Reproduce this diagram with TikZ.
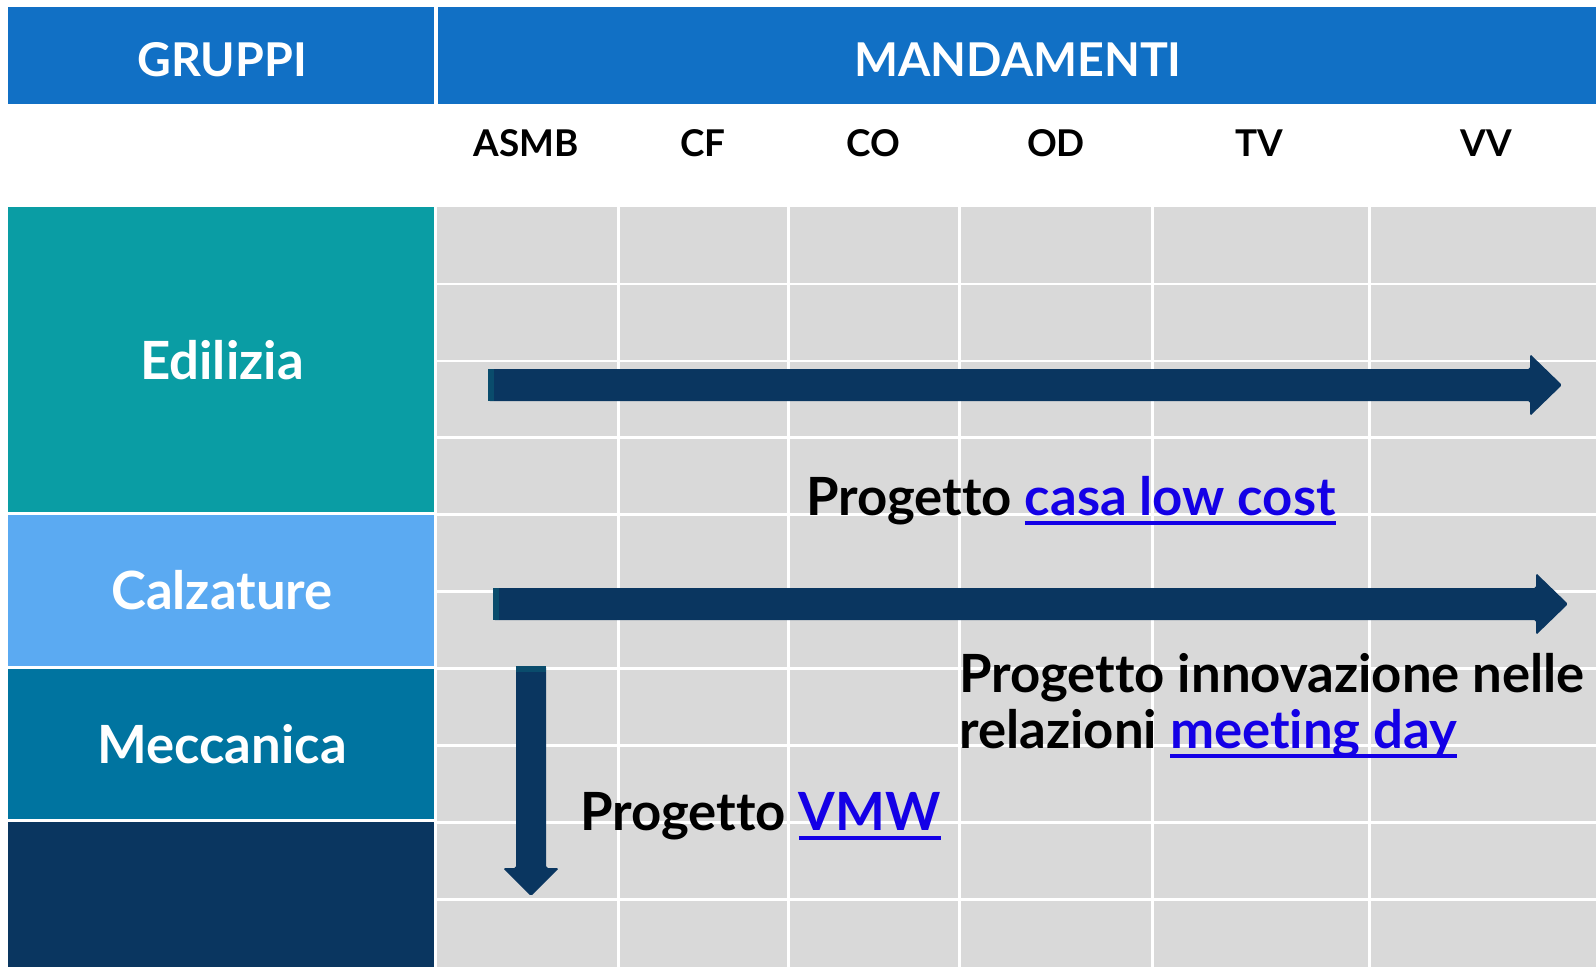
\documentclass[tikz,border=0pt]{standalone}
\usepackage{fontspec}
\setmainfont[Ligatures=CommonOff]{Lato}
\definecolor{hdrblue}{HTML}{1170C5}
\definecolor{edteal}{HTML}{0A9DA4}
\definecolor{calzblue}{HTML}{5BAAF2}
\definecolor{meccblue}{HTML}{0074A0}
\definecolor{navy}{HTML}{0A3660}
\definecolor{tailteal}{HTML}{0A4C6C}
\definecolor{cellgray}{HTML}{D9D9D9}
\definecolor{linkblue}{HTML}{1400E6}
\newsavebox{\linkbox}
\newcommand{\weblink}[1]{\sbox{\linkbox}{\color{linkblue}#1}{\color{linkblue}\rlap{\rule[-5.5pt]{\wd\linkbox}{2.2pt}}}\usebox{\linkbox}}
\begin{document}
\begin{tikzpicture}[x=0.02cm, y=-0.02cm,
    lbl/.style={font=\fontsize{30}{36}\selectfont\bfseries, text=white, anchor=base},
    hdr/.style={font=\fontsize{26.5}{32}\selectfont\bfseries, text=white, anchor=base},
    col/.style={font=\fontsize{21}{25}\selectfont\bfseries, anchor=base},
    note/.style={font=\fontsize{30}{36}\selectfont\bfseries, anchor=base west, inner sep=0pt},
    gridline/.style={white, line width=1.7pt}]
  \useasboundingbox[fill=white] (0,0) rectangle (1596,967);
  % header
  \fill[hdrblue] (8,7) rectangle (434,104);
  \fill[hdrblue] (438,7) rectangle (1596,104);
  \node[hdr] (gruppi) at (222,76) {GRUPPI};
  \node[hdr] (mand) at (1018,76) {MANDAMENTI};
  % mandamenti
  \node[col] (asmb) at (526,156) {ASMB};
  \node[col] (cf) at (703,156) {CF};
  \node[col] (co) at (873,156) {CO};
  \node[col] (od) at (1056,156) {OD};
  \node[col] (tv) at (1259,156) {TV};
  \node[col] (vv) at (1486,156) {VV};
  % grid
  \fill[cellgray] (437,207) rectangle (1596,967);
  \draw[gridline] (618,207) -- (618,967);
  \draw[gridline] (788,207) -- (788,967);
  \draw[gridline] (959,207) -- (959,967);
  \draw[gridline] (1152,207) -- (1152,967);
  \draw[gridline] (1369,207) -- (1369,967);
  \draw[gridline] (437,284) -- (1596,284);
  \draw[gridline] (437,361) -- (1596,361);
  \draw[gridline] (437,437) -- (1596,437);
  \draw[gridline] (437,514) -- (1596,514);
  \draw[gridline] (437,591) -- (1596,591);
  \draw[gridline] (437,668) -- (1596,668);
  \draw[gridline] (437,745) -- (1596,745);
  \draw[gridline] (437,822) -- (1596,822);
  \draw[gridline] (437,899) -- (1596,899);
  % gruppi
  \fill[edteal] (8,207) rectangle (434,512);
  \fill[calzblue] (8,515) rectangle (434,666);
  \fill[meccblue] (8,669) rectangle (434,819);
  \fill[navy] (8,822) rectangle (434,967);
  \node[lbl] (edil) at (222,379) {Edilizia};
  \node[lbl] (calz) at (222,609) {Calzature};
  \node[lbl] (mecc) at (222,763) {Meccanica};
  % frecce
  \fill[navy, rounded corners=1pt] (488,369) -- (1530,369) -- (1530,354) -- (1562,385)
    -- (1530,416) -- (1530,401) -- (488,401) -- cycle;
  \fill[tailteal] (488,369) rectangle (494,401);
  \fill[navy, rounded corners=1pt] (493,588) -- (1536,588) -- (1536,573) -- (1568,604)
    -- (1536,635) -- (1536,620) -- (493,620) -- cycle;
  \fill[tailteal] (493,588) rectangle (499,620);
  \fill[navy, rounded corners=1pt] (516,666) -- (546,666) -- (546,868) -- (559,868)
    -- (531,896) -- (503,868) -- (516,868) -- cycle;
  \fill[tailteal] (516,666) rectangle (546,672);
  % progetti
  \node[note] (casa) at (806,515) {Progetto \weblink{casa low cost}};
  \node[note] (innov) at (959,692) {Progetto innovazione nelle};
  \node[note] (relaz) at (959,748) {relazioni \weblink{meeting day}};
  \node[note] (vmw) at (580,830) {Progetto \weblink{VMW}};
\end{tikzpicture}
\end{document}
